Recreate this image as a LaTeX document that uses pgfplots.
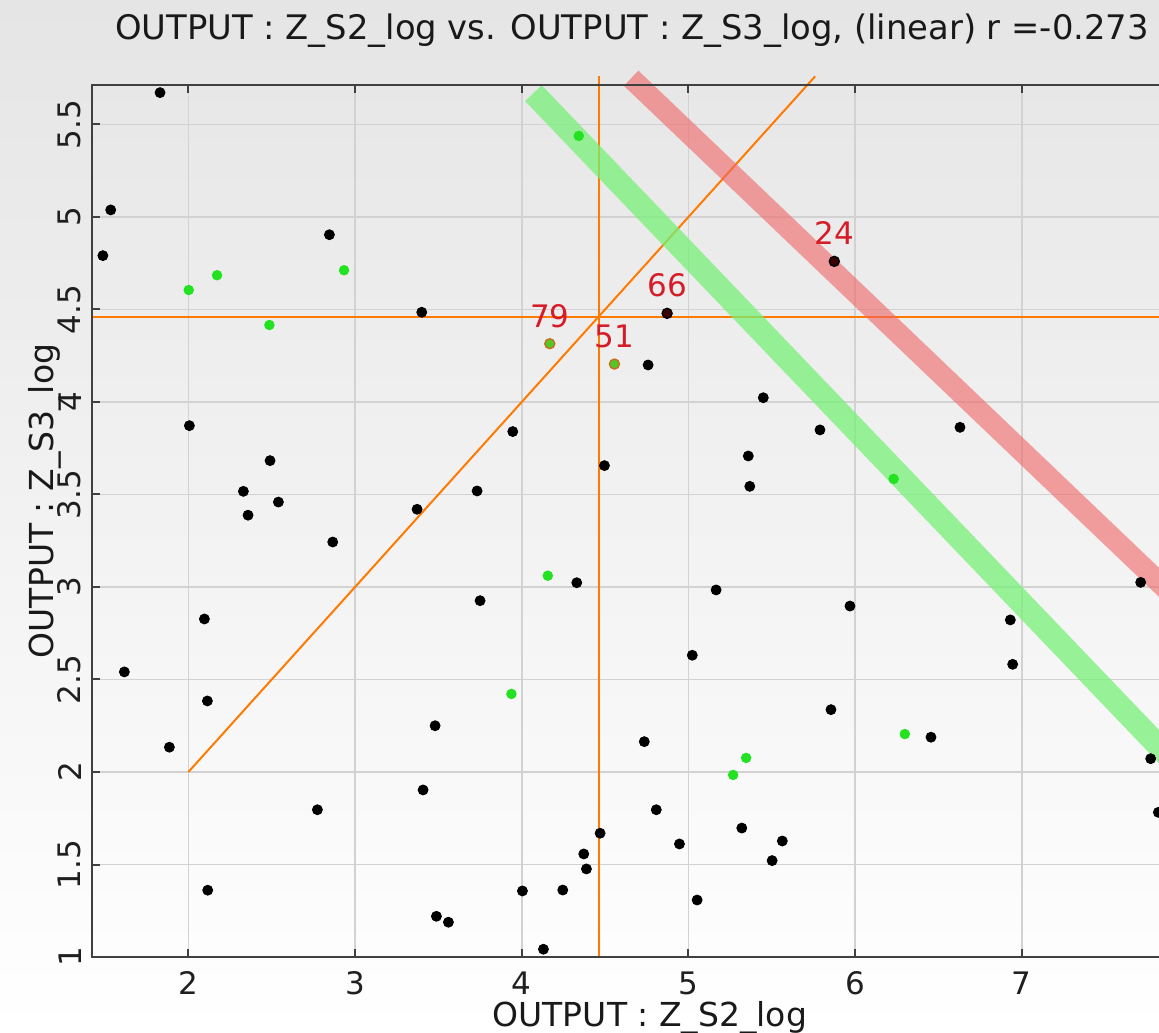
\documentclass[border=0pt]{standalone}
\usepackage{pgfplots}
\pgfplotsset{compat=1.18}
\usepackage{pgfplotstable}
\usepackage{fontspec}
\setmainfont{DejaVu Sans}

\definecolor{bgtop}{RGB}{229,229,229}
\definecolor{gridgray}{RGB}{210,210,210}
\definecolor{framegray}{RGB}{64,64,64}
\definecolor{guideorange}{RGB}{255,122,0}
\definecolor{dotgreen}{RGB}{34,226,34}
\definecolor{bandgreen}{RGB}{120,240,120}
\definecolor{bandred}{RGB}{240,100,100}
\definecolor{labelred}{RGB}{214,28,40}
\definecolor{selgreen}{RGB}{80,200,40}
\definecolor{selring}{RGB}{200,110,30}
\definecolor{seldark}{RGB}{60,0,0}

% ordinary samples
\pgfplotstableread{
x y
1.830 5.672
1.534 5.038
1.487 4.791
2.846 4.904
3.400 4.485
2.006 3.872
2.490 3.683
2.330 3.517
2.540 3.459
2.358 3.388
3.372 3.420
2.866 3.243
2.096 2.827
1.616 2.541
2.114 2.384
1.886 2.134
2.774 1.796
2.116 1.361
3.480 2.250
3.408 1.903
3.488 1.220
3.560 1.188
4.758 4.200
5.449 4.023
3.946 3.840
4.496 3.656
3.732 3.519
5.359 3.708
5.368 3.544
4.330 3.023
3.750 2.926
5.166 2.984
5.023 2.631
4.735 2.164
4.807 1.796
5.320 1.697
4.470 1.669
5.563 1.627
4.946 1.611
4.372 1.557
5.502 1.521
4.388 1.476
4.004 1.357
4.246 1.362
5.052 1.308
4.130 1.042
5.969 2.897
6.931 2.822
6.945 2.582
7.713 3.025
5.855 2.337
6.455 2.188
7.773 2.072
7.819 1.782
5.789 3.849
6.629 3.863
}\blackpts

% flagged samples
\pgfplotstableread{
x y
4.342 5.438
2.934 4.712
2.002 4.605
2.172 4.685
2.486 4.416
4.156 3.061
3.938 2.422
5.346 2.076
5.268 1.984
6.298 2.205
6.231 3.584
}\greenpts

% labelled samples
\pgfplotstableread{
x y lab
4.168 4.315 79
4.556 4.205 51
}\selgreenpts

\pgfplotstableread{
x y lab
4.872 4.479 66
5.875 4.760 24
}\seldarkpts

\begin{document}
\begin{tikzpicture}
\useasboundingbox (-45.85pt,-37.5pt) rectangle (533.65pt,478.5pt);
\shade[top color=bgtop, bottom color=white] (-45.85pt,-37.5pt) rectangle (533.65pt,478.5pt);
\begin{axis}[
  at={(0pt,0pt)}, anchor=south west,
  scale only axis, width=533.65pt, height=436.15pt,
  xmin=1.42, xmax=7.823, ymin=1, ymax=5.715,
  clip=false,
  xtick={2,3,4,5,6,7},
  ytick={1,1.5,2,2.5,3,3.5,4,4.5,5,5.5},
  grid=major,
  major grid style={gridgray, line width=0.75pt},
  axis line style={draw=none},
  tick align=inside,
  major tick length=4pt,
  tick style={framegray, line width=1pt},
  xtick pos=both, ytick pos=left,
  /pgf/number format/assume math mode=true,
  tick label style={font=\fontsize{15.5}{18}\selectfont, text=black!88},
  xticklabel style={anchor=north, inner xsep=0pt, inner ysep=7pt},
  yticklabel style={rotate=90, anchor=south, inner xsep=0pt, inner ysep=5pt},
  title={OUTPUT : Z\_S2\_log vs. OUTPUT : Z\_S3\_log, (linear) r =-0.273},
  every axis title/.style={at={(axis description cs:0.5062,1.05124)}, anchor=base,
    font=\fontsize{16.9}{20}\selectfont, text=black!90},
  xlabel={OUTPUT : Z\_S2\_log},
  every axis x label/.style={at={(axis description cs:0.523,-0.0797)}, anchor=base,
    font=\fontsize{16.5}{19}\selectfont, text=black!90},
  ylabel={OUTPUT : Z\_S3\_log},
  every axis y label/.style={at={(axis description cs:-0.03533,0.5228)}, rotate=90, anchor=base,
    font=\fontsize{16.5}{19}\selectfont, text=black!90},
]
% guide lines through the means
\addplot[guideorange, line width=1pt] coordinates {(1.42,4.458) (7.95,4.458)};
\addplot[guideorange, line width=1pt] coordinates {(4.464,1) (4.464,5.76)};
\addplot[guideorange, line width=1pt] coordinates {(2,2) (5.76,5.76)};
% limit bands
\addplot[bandgreen, opacity=0.75, line width=11.5pt, line cap=butt] coordinates {(4.070,5.669) (7.95,2.018)};
\addplot[bandred, opacity=0.6, line width=10.5pt, line cap=butt] coordinates {(4.656,5.750) (7.95,2.916)};
% samples
\addplot[only marks, mark=*, mark size=2.5pt, mark options={draw=black, fill=black}] table {\blackpts};
\addplot[only marks, mark=*, mark size=2.4pt, mark options={draw=dotgreen, fill=dotgreen}] table {\greenpts};
\addplot[only marks, mark=*, mark size=2.5pt, mark options={draw=selring, fill=selgreen, line width=0.7pt},
  nodes near coords, point meta=explicit symbolic,
  every node near coord/.append style={anchor=base, yshift=8.3pt, inner sep=0pt, text=labelred,
    font=\fontsize{15.5}{18}\selectfont}]
  table[meta=lab] {\selgreenpts};
\addplot[only marks, mark=*, mark size=2.5pt, mark options={draw=black, fill=seldark, line width=0.7pt},
  nodes near coords, point meta=explicit symbolic,
  every node near coord/.append style={anchor=base, yshift=8.3pt, inner sep=0pt, text=labelred,
    font=\fontsize{15.5}{18}\selectfont}]
  table[meta=lab] {\seldarkpts};
% frame on the three visible sides
\draw[framegray, line width=1pt] (rel axis cs:1.02,0) -- (rel axis cs:0,0) -- (rel axis cs:0,1) -- (rel axis cs:1.02,1);
\end{axis}
\end{tikzpicture}
\end{document}
